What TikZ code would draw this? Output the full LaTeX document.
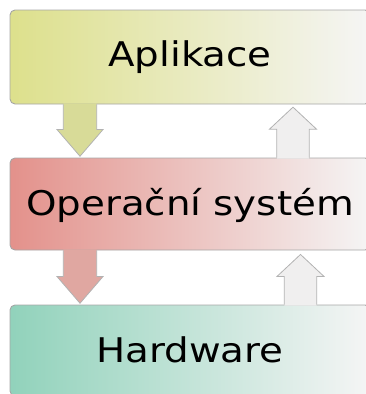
\documentclass[tikz,border=0pt]{standalone}
\usepackage{fontspec}
\usetikzlibrary{calc}
\newfontfamily\layerfont{DejaVu Sans}[FakeStretch=1.14]

\definecolor{appleft}{RGB}{221,224,140}
\definecolor{osleft}{RGB}{227,145,139}
\definecolor{hwleft}{RGB}{145,210,187}
\definecolor{boxright}{RGB}{245,245,245}
\definecolor{appfill}{RGB}{216,219,152}
\definecolor{osfill}{RGB}{224,167,161}
\definecolor{upfill}{RGB}{240,239,239}

% down arrow: fill, upper node, lower node, centre x
\newcommand{\layerdown}[4]{%
	\fill [#1] let \p1=(#2.south), \p2=(#3.north) in
		(#4pt-16.7pt,\y1+1pt) -- (#4pt-16.7pt,\y2+28pt) -- (#4pt-23pt,\y2+28pt) -- (#4pt,\y2+1.3pt)
		-- (#4pt+23pt,\y2+28pt) -- (#4pt+16.7pt,\y2+28pt) -- (#4pt+16.7pt,\y1+1pt) -- cycle;
	\draw [arrowline] let \p1=(#2.south), \p2=(#3.north) in
		(#4pt-16.7pt,\y1) -- (#4pt-16.7pt,\y2+28pt) -- (#4pt-23pt,\y2+28pt) -- (#4pt,\y2+1.3pt)
		-- (#4pt+23pt,\y2+28pt) -- (#4pt+16.7pt,\y2+28pt) -- (#4pt+16.7pt,\y1);
}
% up arrow: fill, lower node, upper node, centre x, gap
\newcommand{\layerup}[5]{%
	\fill [#1] let \p1=(#2.north), \p2=(#3.south) in
		(#4pt-16.2pt,\y1-1pt) -- (#4pt-16.2pt,\y2-#5pt-22pt) -- (#4pt-23.5pt,\y2-#5pt-22pt) -- (#4pt,\y2-#5pt)
		-- (#4pt+23.5pt,\y2-#5pt-22pt) -- (#4pt+16.2pt,\y2-#5pt-22pt) -- (#4pt+16.2pt,\y1-1pt) -- cycle;
	\draw [arrowline] let \p1=(#2.north), \p2=(#3.south) in
		(#4pt-16.2pt,\y1) -- (#4pt-16.2pt,\y2-#5pt-22pt) -- (#4pt-23.5pt,\y2-#5pt-22pt) -- (#4pt,\y2-#5pt)
		-- (#4pt+23.5pt,\y2-#5pt-22pt) -- (#4pt+16.2pt,\y2-#5pt-22pt) -- (#4pt+16.2pt,\y1);
}

\begin{document}
\begin{tikzpicture}[x=1pt,y=-1pt,
		layer/.style={draw=black!35,line width=0.9pt,rounded corners=5pt,inner sep=0pt,
			minimum width=360pt,right color=boxright,
			font=\layerfont\fontsize{34}{40}\selectfont,text height=24.8pt,text depth=0pt},
		arrowline/.style={draw=black!30,line width=0.8pt,line join=miter}]
	\useasboundingbox (0,0) rectangle (365,394);
	\node [layer,left color=appleft,minimum height=94pt,text depth=5pt] (app) at (190,57) {Aplikace};
	\node [layer,left color=osleft,minimum height=92pt,text depth=1pt] (os) at (190,204) {Operační systém};
	\node [layer,left color=hwleft,minimum height=91pt] (hw) at (190,350.5) {Hardware};
	\layerdown{appfill}{app}{os}{80}
	\layerdown{osfill}{os}{hw}{80}
	\layerup{upfill}{os}{app}{293}{2.7}
	\layerup{upfill}{hw}{os}{300.5}{4}
\end{tikzpicture}
\end{document}
